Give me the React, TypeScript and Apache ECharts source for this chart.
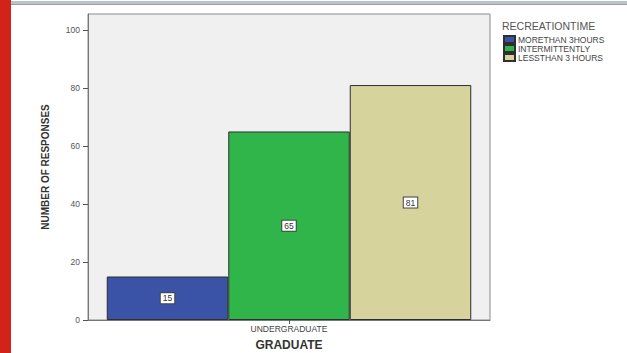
import React, { useEffect, useRef } from "react";
import * as echarts from "echarts";

const categories = ["UNDERGRADUATE"];
const seriesNames = ["MORETHAN 3HOURS", "INTERMITTENTLY", "LESSTHAN 3 HOURS"];
const seriesValues = [[15], [65], [81]];
const seriesColors = ["#3a53a6", "#30b54b", "#d6d39c"];
const yTicks = [0, 20, 40, 60, 80, 100];

export default function App() {
  const ref = useRef<HTMLDivElement>(null);
  useEffect(() => {
    if (!ref.current) return;
    const chart = echarts.init(ref.current, null, { renderer: "svg" });
    const font = "'Liberation Sans', Arial, sans-serif";
    chart.setOption({
      animation: false,
      textStyle: { fontFamily: font },
      title: {
        text: "RECREATIONTIME",
        left: 497,
        top: 15,
        textStyle: { fontSize: 10.5, fontWeight: "normal", color: "#555", fontFamily: font },
      },
      legend: {
        orient: "vertical",
        left: 498,
        top: 30,
        itemWidth: 11,
        itemHeight: 7,
        itemGap: 0,
        icon: "rect",
        textStyle: {
          fontSize: 8.5,
          lineHeight: 9,
          color: "#444",
          padding: [0, 0, 0, -2],
          fontFamily: font,
        },
        data: seriesNames,
      },
      grid: {
        left: 88,
        top: 14,
        width: 402,
        height: 306,
        show: true,
        backgroundColor: "#f0f0f0",
        borderColor: "#8a8a8a",
        borderWidth: 1,
        containLabel: false,
        outerBoundsMode: "none",
      },
      xAxis: {
        type: "category",
        data: categories,
        name: "GRADUATE",
        nameLocation: "middle",
        nameGap: 19,
        nameTextStyle: { fontSize: 12, fontWeight: "bold", color: "#333", fontFamily: font },
        axisLine: { show: true, lineStyle: { color: "#777" } },
        axisTick: { show: true, alignWithLabel: true, length: 4, lineStyle: { color: "#555" } },
        axisLabel: { fontSize: 8.5, color: "#444", margin: 4, fontFamily: font },
      },
      yAxis: {
        type: "value",
        min: 0,
        max: 105.5,
        name: "NUMBER OF RESPONSES",
        nameLocation: "middle",
        nameGap: 38,
        nameTextStyle: { fontSize: 10, fontWeight: "bold", color: "#333", fontFamily: font },
        splitLine: { show: false },
        axisLine: { show: true, lineStyle: { color: "#777" } },
        axisTick: { show: true, length: 5, customValues: yTicks, lineStyle: { color: "#555" } },
        axisLabel: { fontSize: 8.5, color: "#555", margin: 8, customValues: yTicks, fontFamily: font },
      },
      series: seriesNames.map((name, i) => ({
        name,
        type: "bar",
        data: seriesValues[i],
        barWidth: 121.5,
        barGap: "0%",
        itemStyle: { color: seriesColors[i], borderColor: "#2f2f2f", borderWidth: 1 },
        label: {
          show: true,
          position: "inside",
          fontSize: 8.5,
          color: "#333",
          fontFamily: font,
          backgroundColor: "#ffffff",
          borderColor: "#444",
          borderWidth: 1,
          padding: [1, 2, 0, 2],
        },
      })),
      graphic: [
        { type: "rect", shape: { x: 0, y: 0, width: 11, height: 353 }, style: { fill: "#d2231a" } },
        { type: "rect", shape: { x: 11, y: 1, width: 616, height: 3 }, style: { fill: "#bcc2ca" } },
        { type: "rect", shape: { x: 11, y: 4, width: 616, height: 1 }, style: { fill: "#9aa0a8" } },
      ],
    });
    return () => chart.dispose();
  }, []);
  return (
    <div
      ref={ref}
      style={{ position: "absolute", left: 0, top: 0, width: 627, height: 353, background: "#fff" }}
    />
  );
}
